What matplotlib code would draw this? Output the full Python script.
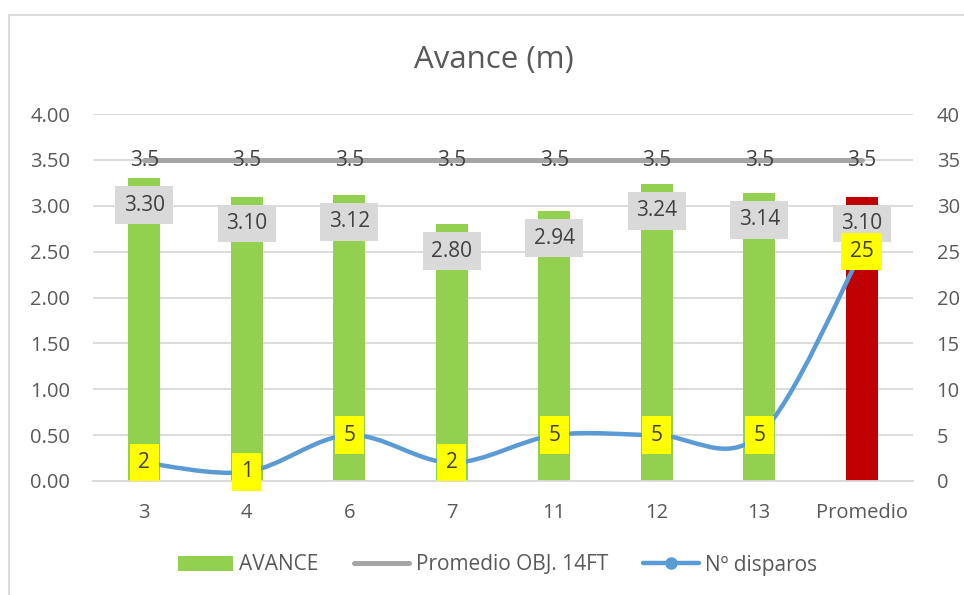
import numpy as np
import matplotlib
matplotlib.use("Agg")
import matplotlib.pyplot as plt
from matplotlib.path import Path
from matplotlib.patches import PathPatch, Rectangle, Patch
from matplotlib.lines import Line2D

plt.rcParams["font.family"] = ["Open Sans", "DejaVu Sans"]

categories = ["3", "4", "6", "7", "11", "12", "13", "Promedio"]
avance = [3.30, 3.10, 3.12, 2.80, 2.94, 3.24, 3.14, 3.10]
objetivo = [3.5, 3.5, 3.5, 3.5, 3.5, 3.5, 3.5, 3.5]
disparos = [2, 1, 5, 2, 5, 5, 5, 25]
bar_colors = ["#92D050"] * 7 + ["#C00000"]

GREEN = "#92D050"
GREY = "#A5A5A5"
BLUE = "#5B9BD5"
TXT = "#595959"
LBL = "#404040"
GRID = "#D9D9D9"

W, H = 964, 595
fig = plt.figure(figsize=(W / 100, H / 100), dpi=100)
ax = fig.add_axes([93 / W, 1 - 481 / H, 820 / W, 367 / H])
ax2 = ax.twinx()

x = np.arange(len(categories))
ax.bar(x, avance, width=0.31, color=bar_colors, zorder=2)
ax.plot(x, objetivo, color=GREY, lw=3.6, solid_capstyle="round", zorder=3)

# smoothed line (bezier through the points, like Excel's smooth line)
pts = list(zip(x.astype(float), disparos))
n = len(pts)
verts = [pts[0]]
codes = [Path.MOVETO]
for i in range(n - 1):
    p0 = pts[i - 1] if i > 0 else pts[i]
    p1 = pts[i]
    p2 = pts[i + 1]
    p3 = pts[i + 2] if i + 2 < n else pts[i + 1]
    c1 = (p1[0] + (p2[0] - p0[0]) / 6, p1[1] + (p2[1] - p0[1]) / 6)
    c2 = (p2[0] - (p3[0] - p1[0]) / 6, p2[1] - (p3[1] - p1[1]) / 6)
    verts += [c1, c2, p2]
    codes += [Path.CURVE4] * 3
ax2.add_patch(PathPatch(Path(verts, codes), fill=False, edgecolor=BLUE,
                        lw=3.2, capstyle="round", zorder=3))

ax.set_xlim(-0.5, len(categories) - 0.5)
ax.set_ylim(0, 4)
ax2.set_ylim(0, 40)

yt = np.arange(0, 4.01, 0.5)
ax.set_yticks(yt)
ax.set_yticklabels([f"{v:.2f}" for v in yt])
ax2.set_yticks(np.arange(0, 41, 5))
ax.set_xticks(x)
ax.set_xticklabels(categories)

ax.tick_params(axis="y", length=0, pad=16.5, labelsize=14.5, labelcolor=TXT)
ax.tick_params(axis="x", length=0, pad=16, labelsize=14.5, labelcolor=TXT)
ax2.tick_params(axis="y", length=0, pad=17, labelsize=14.5, labelcolor=TXT)

ax.grid(axis="y", color=GRID, lw=1.3)
ax.set_axisbelow(True)
for s in ["top", "left", "right"]:
    ax.spines[s].set_visible(False)
ax.spines["bottom"].set_color(GRID)
ax.spines["bottom"].set_linewidth(1.3)
for s in ax2.spines.values():
    s.set_visible(False)

# labels
for i, v in enumerate(objetivo):
    ax2.annotate(f"{v:.1f}", xy=(i, v), xycoords=ax.transData,
                 xytext=(0, -1), textcoords="offset pixels", ha="center",
                 va="center", fontsize=15, color=LBL, zorder=4)
for i, v in enumerate(avance):
    ax2.annotate(f"{v:.2f}", xy=(i, v), xycoords=ax.transData,
                 xytext=(0, -27), textcoords="offset pixels",
                 ha="center", va="center", fontsize=15, color=LBL, zorder=5,
                 bbox=dict(boxstyle="square,pad=0.4", fc="#D9D9D9", ec="none"))
for i, d in enumerate(disparos):
    ax2.annotate(str(d), xy=(i, d), ha="center", va="center", fontsize=15,
                 color=LBL, zorder=6,
                 bbox=dict(boxstyle="square,pad=0.4", fc="#FFFF00", ec="none"))

fig.text(494 / W, 1 - 60 / H, "Avance (m)", fontsize=22.5, color=TXT,
         ha="center", va="center")

handles = [Patch(fc=GREEN, ec="none"),
           Line2D([], [], color=GREY, lw=3.6, solid_capstyle="round"),
           Line2D([], [], color=BLUE, lw=3.2, marker="o", ms=8,
                  solid_capstyle="round")]
labels = ["AVANCE", "Promedio OBJ. 14FT", "Nº disparos"]
fig.legend(handles, labels, loc="center", bbox_to_anchor=(497.5 / W, 1 - 565 / H),
           ncol=3, frameon=False, fontsize=15, labelcolor=TXT,
           handlelength=2.65, handletextpad=0.3, columnspacing=1.7)

fig.patches.append(Rectangle((9 / W, -0.1), 1.2, 1.1 - 15 / H,
                             transform=fig.transFigure, fill=False,
                             ec=GRID, lw=1.3))

fig.savefig("out.png", dpi=100)
